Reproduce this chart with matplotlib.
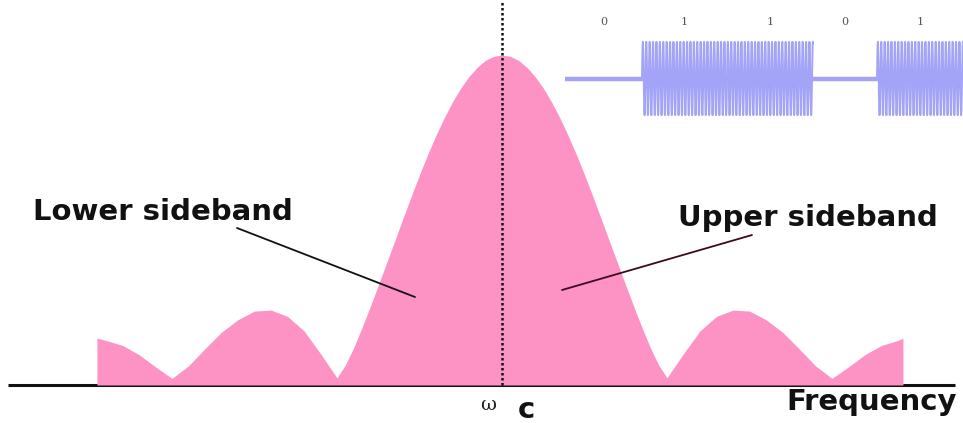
import matplotlib.pyplot as plt
import numpy as np

# spectrum of an on-off keyed carrier, offset from the carrier in units of the first null
freq = [-2.455, -2.40, -2.30, -2.20, -2.10, -2.00, -1.90, -1.80, -1.70, -1.60,
        -1.50, -1.40, -1.30, -1.20, -1.10, -1.00,
        -0.95, -0.90, -0.85, -0.80, -0.75, -0.70, -0.65, -0.60, -0.55, -0.50,
        -0.45, -0.40, -0.35, -0.30, -0.25, -0.20, -0.15, -0.10, -0.05, 0.00,
        0.05, 0.10, 0.15, 0.20, 0.25, 0.30, 0.35, 0.40, 0.45, 0.50,
        0.55, 0.60, 0.65, 0.70, 0.75, 0.80, 0.85, 0.90, 0.95, 1.00,
        1.10, 1.20, 1.30, 1.40, 1.50, 1.60, 1.70, 1.80, 1.90, 2.00,
        2.10, 2.20, 2.30, 2.40, 2.43]
amp = [0.142, 0.135, 0.120, 0.092, 0.055, 0.020, 0.058, 0.110, 0.160, 0.198,
       0.224, 0.227, 0.208, 0.164, 0.095, 0.022,
       0.060, 0.112, 0.172, 0.236, 0.302, 0.370, 0.437, 0.505, 0.572, 0.637,
       0.699, 0.757, 0.810, 0.858, 0.900, 0.935, 0.963, 0.984, 0.996, 1.000,
       0.996, 0.984, 0.963, 0.935, 0.900, 0.858, 0.810, 0.757, 0.699, 0.637,
       0.572, 0.505, 0.437, 0.370, 0.302, 0.236, 0.172, 0.112, 0.060, 0.022,
       0.095, 0.164, 0.208, 0.227, 0.224, 0.198, 0.160, 0.110, 0.058, 0.020,
       0.055, 0.092, 0.120, 0.135, 0.142]

bits = [0, 1, 1, 0, 1]
bit_edges = [565, 642, 727, 813, 877, 963]   # pixel columns of the keyed signal

W, H = 963, 423
PX = 165.0    # pixels per unit of frequency offset
PY = 330.0    # pixels per unit of amplitude
x0, y0 = 502, 385   # carrier position and baseline

pink = '#fd93c5'
wave_col = '#a3a3f7'

fig = plt.figure(figsize=(W / 100, H / 100), dpi=100)
ax = fig.add_axes([0, 0, 1, 1])
ax.set_xlim(-x0 / PX, (W - x0) / PX)
ax.set_ylim(-(H - y0) / PY, y0 / PY)
ax.axis('off')

ax.hlines(0, (8 - x0) / PX, (955 - x0) / PX, color='#111111', lw=2.2, zorder=1)
ax.fill_between(freq, 0, amp, color=pink, lw=0, zorder=2)
ax.axvline(0, ymin=(H - y0) / H, ymax=1, color='#111111', ls=(0, (1, 1)), lw=1.8, zorder=3)

bold = dict(family='DejaVu Sans', fontweight='bold', fontsize=21, color='#111111')
fig.text(33 / W, 1 - 212 / H, 'Lower sideband', ha='left', va='center', **bold)
fig.text(938 / W, 1 - 218 / H, 'Upper sideband', ha='right', va='center', **bold)
fig.text(957 / W, 1 - 402 / H, 'Frequency', ha='right', va='center', **bold)
fig.text(526 / W, 1 - 410 / H, 'c', ha='center', va='center', **bold)
fig.text(488 / W, 1 - 405 / H, 'ω', ha='center', va='center',
         family='DejaVu Serif', fontsize=14, color='#222222')

# leader lines from the labels into the sidebands
ax.annotate('', xy=((415 - x0) / PX, (y0 - 297) / PY),
            xytext=((237 - x0) / PX, (y0 - 228) / PY),
            arrowprops=dict(arrowstyle='-', color='#111111', lw=1.3, shrinkA=0, shrinkB=0))
ax.annotate('', xy=((562 - x0) / PX, (y0 - 290) / PY),
            xytext=((752 - x0) / PX, (y0 - 235) / PY),
            arrowprops=dict(arrowstyle='-', color='#3a0a20', lw=1.3, shrinkA=0, shrinkB=0))

# keyed carrier inset
top, bot = 40, 117
wax = fig.add_axes([bit_edges[0] / W, 1 - bot / H, (W - bit_edges[0]) / W, (bot - top) / H])
wax.set_xlim(bit_edges[0], W)
wax.set_ylim(-1.05, 1.05)
wax.axis('off')
period = 3.4
for i, b in enumerate(bits):
    a, c = bit_edges[i], bit_edges[i + 1]
    if b:
        t = np.linspace(a, c, 2400)
        wax.plot(t, np.sin(2 * np.pi * (t - a) / period), color=wave_col, lw=1.4)
    else:
        wax.plot([a, c], [0, 0], color=wave_col, lw=3.2, solid_capstyle='round')
    wax.text((a + c) / 2, (bot - 22) / (bot - top) * 2.1 - 1.05, str(b),
             ha='center', va='center', family='DejaVu Serif', fontsize=8, color='#555555')

fig.savefig('out.png', dpi=100)
